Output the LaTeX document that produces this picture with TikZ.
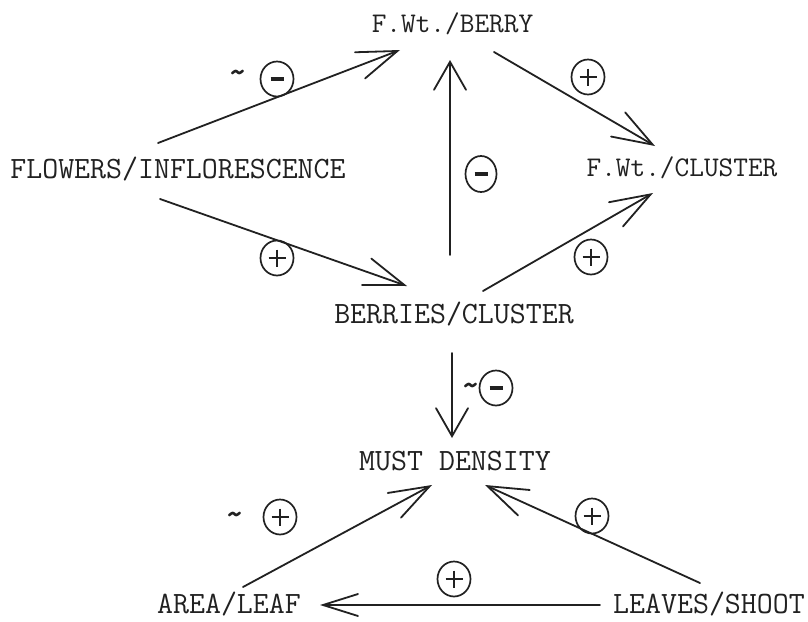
\documentclass[tikz,border=0pt]{standalone}
\usepackage{fontspec}
\usetikzlibrary{arrows.meta,shapes.geometric}
\definecolor{ink}{gray}{0.13}
\tikzset{
  lbl/.style={inner sep=0pt, text=ink, font=\fontsize{31}{33}\selectfont\ttfamily},
  lbln/.style={lbl, font=\fontsize{28.5}{30}\selectfont\ttfamily},
  tld/.style={inner sep=0pt, text=ink, font=\fontsize{36}{38}\selectfont\ttfamily\bfseries},
  arr/.style={draw=ink, line width=1.8pt, line cap=round, -{Straight Barb[length=40pt,width=28pt,line cap=round]}},
  arrv/.style={draw=ink, line width=1.8pt, line cap=round, -{Straight Barb[length=28pt,width=32pt,line cap=round]}},
  arrh/.style={draw=ink, line width=1.8pt, line cap=round, -{Straight Barb[length=35pt,width=22pt,line cap=round]}},
  sign/.style={draw=ink, line width=1.7pt, ellipse, minimum width=33pt, minimum height=35pt, inner sep=0pt},
  plussign/.style={sign, path picture={\draw[ink, line width=1.9pt] (path picture bounding box.center) ++(-8.5,0) -- ++(17,0) (path picture bounding box.center) ++(0,-8.5) -- ++(0,17);}},
  minussign/.style={sign, path picture={\draw[ink, line width=3.2pt] (path picture bounding box.center) ++(-6.5,0) -- ++(13,0);}}
}
\begin{document}
\begin{tikzpicture}[x=1pt,y=-1pt]
\useasboundingbox[fill=white] (0,0) rectangle (808,621);
% labels
\node[lbln] (berry) at (452.5,23.5) {F.Wt./BERRY};
\node[lbl] (flowers) at (178,169) {FLOWERS/INFLORESCENCE};
\node[lbln] (cluster) at (682,167.5) {F.Wt./CLUSTER};
\node[lbl] (berries) at (454,314) {BERRIES/CLUSTER};
\node[lbl] (must) at (455,461) {MUST DENSITY};
\node[lbl] (area) at (229,604) {AREA/LEAF};
\node[lbl] (leaves) at (709,604) {LEAVES/SHOOT};
% connectors
\draw[arr] ([shift={(-20,-26)}]flowers.center) -- ([shift={(-52.5,26.5)}]berry.center);
\draw[arr] ([shift={(41.5,28.5)}]berry.center) -- ([shift={(-27,-21.5)}]cluster.center);
\draw[arrv] ([shift={(-4,-59)}]berries.center) -- ([shift={(-2.5,36.5)}]berry.center);
\draw[arr] ([shift={(-18,30)}]flowers.center) -- ([shift={(-47,-28)}]berries.center);
\draw[arr] ([shift={(29,-23)}]berries.center) -- ([shift={(-29,25.5)}]cluster.center);
\draw[arrv] ([shift={(-2,39)}]berries.center) -- ([shift={(-3,-23)}]must.center);
\draw[arr] ([shift={(14,-17)}]area.center) -- ([shift={(-23,24)}]must.center);
\draw[arr] ([shift={(-9,-21)}]leaves.center) -- ([shift={(30,24)}]must.center);
\draw[arrh] ([shift={(-109,1)}]leaves.center) -- ([shift={(91,1)}]area.center);
% signs
\node[tld] (t1) at (238,77) {\textasciitilde};
\node[minussign] (s1) at (277,79) {};
\node[plussign] (s2) at (588,77) {};
\node[minussign, minimum width=31pt, minimum height=36pt] (s3) at (481,174) {};
\node[plussign] (s4) at (277,258) {};
\node[plussign] (s5) at (591,257) {};
\node[tld] (t6) at (471,390) {\textasciitilde};
\node[minussign] (s6) at (496,388) {};
\node[tld] (t7) at (235,519) {\textasciitilde};
\node[plussign] (s7) at (280,517) {};
\node[plussign] (s8) at (592,516) {};
\node[plussign] (s9) at (454,579) {};
\end{tikzpicture}
\end{document}
